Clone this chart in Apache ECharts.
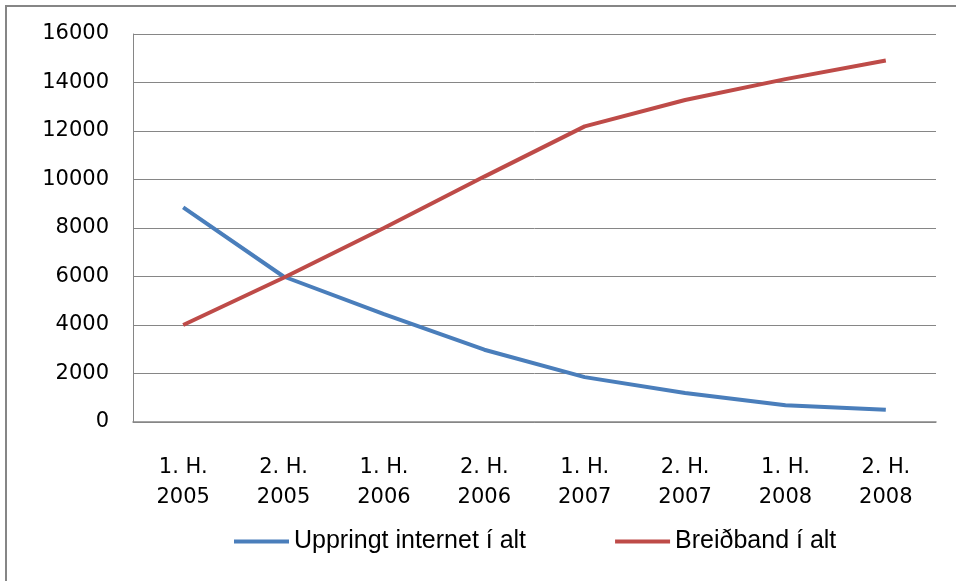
<!DOCTYPE html>
<html>
<head>
<meta charset="utf-8">
<script src="https://cdn.jsdelivr.net/npm/echarts@6/dist/echarts.min.js"></script>
<style>
  html, body { margin: 0; padding: 0; background: #fff; }
  #chart { width: 956px; height: 581px; }
</style>
</head>
<body>
<div id="chart"></div>
<script>
    // hálfsár
    let periods = ["1. H.\n2005", "2. H.\n2005", "1. H.\n2006", "2. H.\n2006", "1. H.\n2007", "2. H.\n2007", "1. H.\n2008", "2. H.\n2008"]
    let uppringt = [8850, 6000, 4450, 2980, 1850, 1200, 690, 510]
    let breidband = [4000, 5950, 8000, 10120, 12190, 13280, 14140, 14910]

    let myChart = echarts.init(document.getElementById("chart"))

    let option = {
        animation: false,
        textStyle: { fontFamily: "DejaVu Sans" },
        graphic: [{
            type: "rect",
            shape: { x: 6, y: 6, width: 1200, height: 1200 },
            style: { fill: "none", stroke: "#868686", lineWidth: 2 }
        }],
        grid: { left: 133, right: 20, top: 34, bottom: 159 },
        legend: {
            left: 229,
            top: 524,
            itemWidth: 55,
            itemHeight: 4,
            itemGap: 89,
            icon: "rect",
            textStyle: { fontSize: 25, color: "#000", fontFamily: "Liberation Sans" },
            data: ["Uppringt internet í alt", "Breiðband í alt"]
        },
        xAxis: {
            type: "category",
            data: periods,
            boundaryGap: true,
            axisLine: { lineStyle: { color: "#868686", width: 1.5 } },
            axisTick: { show: false },
            axisLabel: { color: "#000", fontSize: 21, lineHeight: 30, margin: 31, interval: 0 }
        },
        yAxis: {
            type: "value",
            min: 0,
            max: 16000,
            interval: 2000,
            axisLine: { show: true, lineStyle: { color: "#868686", width: 1 } },
            axisTick: { show: false },
            splitLine: { lineStyle: { color: "#868686", width: 1 } },
            axisLabel: { color: "#000", fontSize: 21, margin: 24, formatter: function (v) { return String(v) } }
        },
        series: [{
            name: "Uppringt internet í alt",
            type: "line",
            data: uppringt,
            showSymbol: false,
            lineStyle: { color: "#4A7EBB", width: 4 },
            itemStyle: { color: "#4A7EBB" }
        }, {
            name: "Breiðband í alt",
            type: "line",
            data: breidband,
            showSymbol: false,
            lineStyle: { color: "#BE4B48", width: 4 },
            itemStyle: { color: "#BE4B48" }
        }]
    }

    myChart.setOption(option)
</script>
</body>
</html>
